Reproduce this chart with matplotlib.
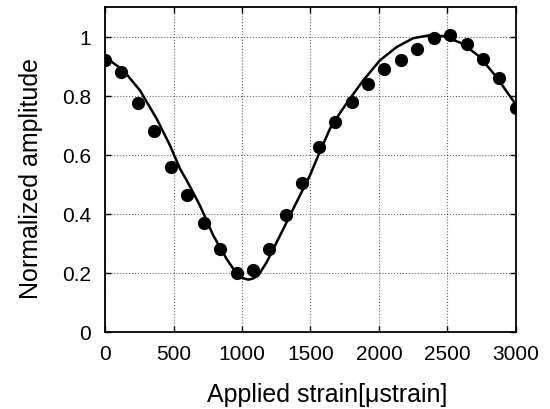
import matplotlib
matplotlib.use("Agg")
import matplotlib.pyplot as plt

# Measured data points
strain_pts = [0, 120, 240, 360, 480, 600, 720, 840, 960, 1080, 1200, 1320, 1440,
              1560, 1680, 1800, 1920, 2040, 2160, 2280, 2400, 2520, 2640, 2760, 2880, 3000]
amp_pts = [0.92, 0.88, 0.775, 0.68, 0.56, 0.465, 0.37, 0.28, 0.20, 0.21, 0.28, 0.395, 0.505,
           0.625, 0.71, 0.78, 0.84, 0.89, 0.92, 0.96, 0.995, 1.005, 0.975, 0.925, 0.86, 0.76]

# Theoretical curve
strain_fit = [0, 134, 255, 377, 474, 547, 600, 693, 791, 888, 961, 1000, 1046, 1080, 1119,
              1180, 1277, 1399, 1496, 1570, 1642, 1720, 1788, 1885, 2007, 2129, 2250, 2372,
              2470, 2615, 2737, 2859, 3000]
amp_fit = [0.931, 0.886, 0.818, 0.722, 0.632, 0.553, 0.51, 0.428, 0.326, 0.247, 0.197, 0.183,
           0.177, 0.181, 0.191, 0.236, 0.326, 0.44, 0.53, 0.612, 0.688, 0.745, 0.79, 0.852,
           0.92, 0.965, 0.995, 1.005, 1.002, 0.976, 0.931, 0.863, 0.77]

xticks = [0, 500, 1000, 1500, 2000, 2500, 3000]
yticks = [0, 0.2, 0.4, 0.6, 0.8, 1.0]
yticklabels = ["0", "0.2", "0.4", "0.6", "0.8", "1"]

plt.rcParams['font.family'] = ['Liberation Sans', 'DejaVu Sans']

fig = plt.figure(figsize=(5.5, 4.1), dpi=100)
ax = fig.add_axes([0.191, 0.188, 0.747, 0.792])

ax.plot(strain_fit, amp_fit, color='black', lw=1.8, zorder=3)
ax.plot(strain_pts, amp_pts, 'o', color='black', markersize=8.5, zorder=4)

ax.set_xlim(0, 3000)
ax.set_ylim(0, 1.1)
ax.set_xticks(xticks)
ax.set_yticks(yticks)
ax.set_yticklabels(yticklabels)
ax.tick_params(direction='in', labelsize=15, length=4, width=1, top=True, right=True)
ax.tick_params(axis='x', pad=9)
ax.tick_params(axis='y', pad=10)
ax.grid(True, linestyle=':', color='black', linewidth=0.8, alpha=0.6)
for s in ax.spines.values():
    s.set_linewidth(1.3)

ax.set_xlabel('Applied strain[\u03bcstrain]', fontsize=18)
ax.set_ylabel('Normalized amplitude', fontsize=18)
ax.xaxis.set_label_coords(0.54, -0.155)
ax.yaxis.set_label_coords(-0.152, 0.477)

fig.savefig('out.png', dpi=100)
